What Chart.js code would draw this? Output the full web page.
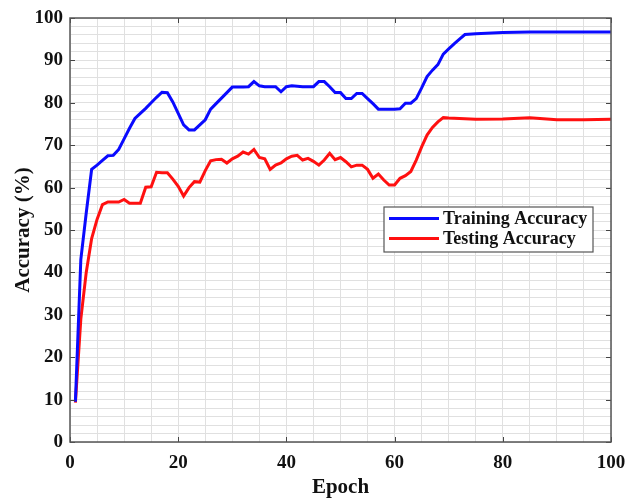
<!DOCTYPE html>
<html>
<head>
<meta charset="utf-8">
<script src="https://cdn.jsdelivr.net/npm/chart.js@4"></script>
<style>
html,body{margin:0;padding:0;background:#fff;}
#wrap{width:626px;height:501px;position:relative;}
</style>
</head>
<body>
<div id="wrap"><canvas id="c" width="626" height="501"></canvas></div>
<script>
const trainEpochs = [1,2,3,4,5,6,7,8,9,10,11,12,13,14,15,16,17,18,19,20,21,22,23,24,25,26,27,28,29,30,31,32,33,34,35,36,37,38,39,40,41,42,43,44,45,46,47,48,49,50,51,52,53,54,55,56,57,58,59,60,61,62,63,64,65,66,67,68,69,70,71,72,73,75,80,85,100];
const trainAcc = [9.5,43,54,64.3,65.3,66.4,67.5,67.6,69,71.5,74,76.3,77.5,78.7,80,81.3,82.5,82.4,80.2,77.5,74.8,73.6,73.6,74.8,76,78.5,79.8,81.1,82.4,83.7,83.7,83.7,83.8,85,84,83.8,83.8,83.8,82.6,83.8,84,83.9,83.8,83.8,83.8,85,85,83.8,82.4,82.4,81,81,82.2,82.2,81,79.8,78.5,78.5,78.5,78.5,78.6,79.9,79.9,81,83.5,86.2,87.7,89,91.5,92.7,93.9,95,96.1,96.3,96.6,96.7,96.7];
const testEpochs = [1,2,3,4,5,6,7,8,9,10,11,12,13,14,15,16,17,18,19,20,21,22,23,24,25,26,27,28,29,30,31,32,33,34,35,36,37,38,39,40,41,42,43,44,45,46,47,48,49,50,51,52,53,54,55,56,57,58,59,60,61,62,63,64,65,66,67,68,69,70,75,80,85,90,95,100];
const testAcc = [9.3,29,40,48,52.5,56,56.6,56.6,56.6,57.2,56.3,56.3,56.3,60.1,60.2,63.6,63.5,63.5,62,60.3,58,60,61.4,61.3,64,66.3,66.6,66.7,65.8,66.8,67.4,68.4,67.9,69,67.1,66.8,64.3,65.3,65.8,66.8,67.4,67.6,66.5,66.9,66.2,65.3,66.5,68.1,66.6,67.1,66.1,64.9,65.3,65.3,64.3,62.2,63.2,61.8,60.6,60.6,62.2,62.8,63.8,66.5,69.6,72.4,74.2,75.5,76.5,76.4,76.1,76.2,76.5,76,76,76.1];
const seriesLabels = ["Training Accuracy","Testing Accuracy"];
const xTitle = "Epoch";
const yTitle = "Accuracy (%)";
const xMajorTicks = [0,20,40,60,80,100];
const yMajorTicks = [0,10,20,30,40,50,60,70,80,90,100];

const FONT = "'Liberation Serif','Times New Roman',serif";
const toXY = (xs, ys) => xs.map((x,i)=>({x:x,y:ys[i]}));

const framePlugin = {
  id:'frame',
  afterDatasetsDraw(chart){
    const {ctx, chartArea:a, scales:{x,y}} = chart;
    ctx.save();
    ctx.strokeStyle = '#444';
    ctx.lineWidth = 1;
    ctx.beginPath();
    xMajorTicks.forEach(v=>{
      const px = Math.round(x.getPixelForValue(v))+0.5;
      ctx.moveTo(px,a.bottom); ctx.lineTo(px,a.bottom-5);
      ctx.moveTo(px,a.top); ctx.lineTo(px,a.top+5);
    });
    yMajorTicks.forEach(v=>{
      const py = Math.round(y.getPixelForValue(v))+0.5;
      ctx.moveTo(a.left,py); ctx.lineTo(a.left+5,py);
      ctx.moveTo(a.right,py); ctx.lineTo(a.right-5,py);
    });
    ctx.stroke();
    ctx.strokeStyle = '#555';
    ctx.lineWidth = 1.5;
    ctx.strokeRect(a.left, a.top, a.right-a.left, a.bottom-a.top);
    // legend
    const bx = 384, by = 207, bw = 209, bh = 45;
    ctx.fillStyle = '#fff';
    ctx.fillRect(bx,by,bw,bh);
    ctx.strokeStyle = '#555';
    ctx.lineWidth = 1.2;
    ctx.strokeRect(bx,by,bw,bh);
    ctx.font = "bold 18px " + FONT;
    ctx.textBaseline = 'middle';
    ctx.textAlign = 'left';
    chart.data.datasets.forEach((ds,i)=>{
      const ly = by + 11.5 + i*20;
      ctx.strokeStyle = ds.borderColor;
      ctx.lineWidth = 3;
      ctx.beginPath(); ctx.moveTo(bx+5, ly); ctx.lineTo(bx+55, ly); ctx.stroke();
      ctx.fillStyle = '#111';
      ctx.fillText(ds.label, bx+59, ly+1);
    });
    ctx.restore();
  }
};

new Chart(document.getElementById('c'), {
  type:'line',
  data:{
    datasets:[
      {label:seriesLabels[0], data:toXY(trainEpochs,trainAcc), borderColor:'#0a0aff', borderWidth:3, pointRadius:0, tension:0, fill:false},
      {label:seriesLabels[1], data:toXY(testEpochs,testAcc), borderColor:'#ff1010', borderWidth:3, pointRadius:0, tension:0, fill:false}
    ]
  },
  options:{
    responsive:false,
    animation:false,
    layout:{padding:{top:18,right:15,left:0,bottom:0}},
    plugins:{legend:{display:false}, tooltip:{enabled:false}},
    scales:{
      x:{
        type:'linear', min:0, max:100,
        afterFit(s){ s.height = 59; s.paddingRight = 0; s.paddingLeft = 0; },
        ticks:{stepSize:5, autoSkip:false, maxRotation:0, padding:10, color:'#111',
          font:{family:FONT, size:19, weight:'bold'},
          callback:(v)=> (v%20===0 ? String(v) : '')},
        grid:{color:'#e0e0e0', lineWidth:1, drawTicks:false},
        border:{display:false},
        title:{display:true, text:xTitle, color:'#111', font:{family:FONT, size:21, weight:'bold'}, padding:{top:0,bottom:1}}
      },
      y:{
        min:0, max:100,
        afterFit(s){ s.width = 70; s.paddingTop = 0; s.paddingBottom = 0; },
        ticks:{stepSize:2, autoSkip:false, padding:7, color:'#111',
          font:{family:FONT, size:19, weight:'bold'},
          callback:(v)=> (v%10===0 ? String(v) : '')},
        grid:{color:'#e0e0e0', lineWidth:1, drawTicks:false},
        border:{display:false},
        title:{display:true, text:yTitle, color:'#111', font:{family:FONT, size:21, weight:'bold'}, padding:{top:11,bottom:0}}
      }
    }
  },
  plugins:[framePlugin]
});
</script>
</body>
</html>
